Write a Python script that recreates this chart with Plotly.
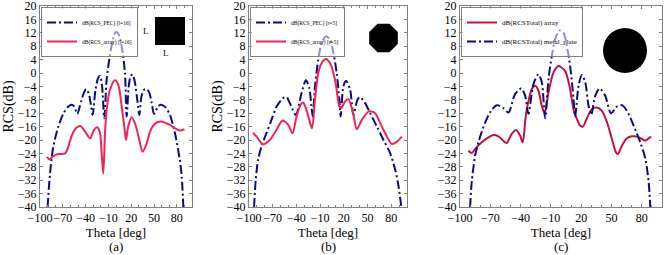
import math
import plotly.graph_objects as go

W, H = 665, 255

# ---------------- data ----------------
# (a) square plate l=16
a_pec_theta = [-90, -86.8, -82.5, -75.9, -69, -62.7, -58.5, -55, -51, -46, -42, -39.5, -36, -33, -30.7, -27, -23.5, -21, -18.5, -15.4,
               -12.3, -7.9, -3.5, 0, 4.4, 8.8, 11.8, 14, 17, 19.5, 22, 25, 28, 30.7, 33.5, 37, 40.4, 44, 47, 50,
               54, 58, 61, 65, 71, 77.6, 84, 86.5, 88.6]
a_pec_val = [-40, -30, -22, -16, -12, -10, -9.5, -10, -12.2, -8.5, -5.8, -4.8, -6, -9.5, -12.5, -5, -1.5, -0.8, -3.5, -13.5,
             -2, 5.5, 10.5, 12.3, 11, 6, 0, -13, -3.5, -0.8, -0.5, -3, -8, -12.5, -7, -5, -4.8, -6, -9, -12.2,
             -10.5, -9.5, -9.6, -10.2, -12.5, -18, -26, -31, -40]
a_arr_theta = [-91, -87.7, -82.5, -75.9, -67, -62.7, -58, -51.8, -47, -40.8, -34, -29, -24.6, -21, -18.9, -16.7,
               -14.5, -12.3, -7.9, -1.3, 3, 7.5, 12, 13.2, 16, 20.6, 25, 30.7, 35, 40.4, 44.7, 51, 58, 64.5, 71, 77.6, 84, 90]
a_arr_val = [-25, -25.8, -24.8, -24.2, -24, -22, -18.5, -16.3, -15.8, -17.5, -19.5, -17, -16.2, -18, -24, -30,
             -18, -11, -5, -2.2, -3.5, -10, -18, -20, -16, -13.2, -15, -20, -23.5, -21, -17.5, -15.2, -14.5, -14.8, -15.5, -16.5, -17.2, -16.8]

# (b) octagonal plate r=5
b_pec_theta = [-93.6, -91.5, -88.6, -84.3, -78, -71.6, -65, -56.8, -52.5, -48.3, -40.7, -33.5, -28, -23.7, -21, -19.3,
               -16.5, -12.3, -8, -2.5, 2.5, 6.8, 11, 14.4, 16, 19.5, 22.9, 28, 32.2, 37.3, 40.7, 47, 53.4, 61.9,
               70.3, 78.8, 85.2, 89.4, 92.8]
b_pec_val = [-40, -32, -26, -22, -18, -14, -10, -7.5, -7.2, -9, -12.5, -6, -2.2, -4.5, -10, -13,
             -4, 4, 9, 11, 10, 6, 0, -8, -13, -4, -2.3, -5, -12.5, -8, -7.2, -9, -12, -16,
             -20, -24, -29, -34, -40]
b_arr_theta = [-94.9, -88.6, -82.5, -73.7, -65.3, -57.5, -50.4, -44.9, -39.8, -33.5, -31.5, -28, -23.7, -20.3, -16.5,
               -12.3, -8, -2.5, 2.5, 8.9, 14.4, 16.5, 21.6, 25.8, 32.2, 36.4, 42.8, 51.3, 55, 59.7, 68.2, 74.6, 80.9, 87.3, 93.6]
b_arr_val = [-17.8, -19.5, -21.3, -20, -17, -14.2, -15.5, -18, -13, -9, -8.8, -10.5, -14, -16.5, -8,
             0, 3, 4.2, 3, -2, -10, -10.5, -8.5, -7.8, -12.5, -16.8, -14, -11.5, -11.5, -12, -16, -19, -21.2, -20.5, -19]

# (c) circular plate
c_pec_theta = [-90, -88.4, -85, -81.8, -76.9, -70.2, -63.6, -57, -52, -45.5, -39.5, -35.5, -32.2, -27.3, -22.3, -19,
               -15.7, -12.4, -9.1, -5.8, -1.5, 2.5, 6.4, 9.8, 12.4, 14, 17.4, 20.7, 24, 27.3, 29.9, 33.9, 38.2,
               43.8, 49.4, 55.4, 60.3, 65.3, 71.9, 78.5, 83.5, 86.8, 88.4]
c_pec_val = [-40, -32.6, -24.6, -20.7, -16.2, -11.7, -9.6, -10.5, -11.8, -6.3, -4.6, -6.8, -12.2, -3.3, -0.4, -2.8,
             -13.5, -1.8, 5.1, 10.1, 12.7, 12, 7.1, 0.2, -7.8, -13, -3.8, -0.6, -2.8, -9.8, -12.5, -6.8, -4.6,
             -6.8, -12, -10, -9.6, -11.3, -15.7, -20.7, -25.6, -32.6, -40]
c_arr_theta = [-91.7, -88.4, -85.1, -78.5, -71.9, -66.9, -62, -55.4, -53.7, -48.8, -44.5, -40.5, -37.9, -35.2, -33.2,
               -28.9, -25.6, -22.3, -19, -16.2, -12.4, -7.4, -2.5, -0.2, 4.1, 8.4, 12.4, 15.7, 19, 21.7, 25.6,
               30.6, 35.5, 40.5, 45.5, 50.4, 54.4, 56.4, 60.3, 65.3, 70.2, 75.2, 80.2, 83.5, 86.8, 89.1]
c_arr_val = [-23.2, -23.9, -22.7, -20.7, -19.2, -18.5, -18.9, -20.7, -20.9, -18.2, -17, -18.7, -20.7, -13.7, -9.8,
             -4.8, -3.8, -5.3, -9.8, -12, -5.8, 0.2, 2.1, 1.8, 0.6, -3.8, -10.8, -13.7, -15.7, -16, -13.5,
             -10.8, -10.3, -11.3, -14.7, -19.7, -23.7, -24.2, -21.7, -19.5, -18.9, -19, -19.7, -20.2, -19.5, -19]

x_ticks = [-100, -70, -40, -10, 20, 50, 80]
y_ticks = list(range(-40, 21, 4))
panel_labels = ["(a)", "(b)", "(c)"]

# ---------------- styling ----------------
NAVY = "#0c0c78"
PINK = "#f0245a"
CRIMSON = "#c4113f"
DASH = "9px,3px,2px,3px"
SERIF = "Liberation Serif"
FRAME = "#808080"
LEG_BG = "rgba(255,255,255,0.55)"

def px(x):
    return x / W

def py(y):
    return 1 - y / H

panels = [
    dict(x0=40, x1=192),
    dict(x0=249, x1=407),
    dict(x0=460, x1=662),
]
ytop, ybot = 6, 207

fig = go.Figure()

series = [
    (1, a_pec_theta, a_pec_val, "dB(RCS_PEC) [l=16]", NAVY, DASH, "legend"),
    (1, a_arr_theta, a_arr_val, "dB(RCS_array) [l=16]", PINK, "solid", "legend"),
    (2, b_pec_theta, b_pec_val, "dB(RCS_PEC) [r=5]", NAVY, DASH, "legend2"),
    (2, b_arr_theta, b_arr_val, "dB(RCS_array) [r=5]", PINK, "solid", "legend2"),
    (3, c_arr_theta, c_arr_val, "dB(RCSTotal) array", CRIMSON, "solid", "legend3"),
    (3, c_pec_theta, c_pec_val, "dB(RCSTotal) metal_plate", NAVY, DASH, "legend3"),
]
for i, th, v, name, col, dash, lg in series:
    fig.add_trace(go.Scatter(
        x=th, y=v, mode="lines", name=name,
        line=dict(color=col, width=2, dash=dash, shape="spline", smoothing=0.8),
        xaxis="x" if i == 1 else f"x{i}", yaxis="y" if i == 1 else f"y{i}",
        legend=lg,
    ))

layout = dict(
    width=W, height=H,
    margin=dict(l=0, r=0, t=0, b=0, autoexpand=False),
    paper_bgcolor="white", plot_bgcolor="white",
    font=dict(family=SERIF, size=12, color="black"),
)
for k, p in enumerate(panels, start=1):
    sx = "" if k == 1 else str(k)
    layout[f"xaxis{sx}"] = dict(
        domain=[px(p["x0"]), px(p["x1"])], anchor=f"y{sx}", range=[-100, 100],
        tickvals=x_ticks, ticks="inside", ticklen=3, mirror="ticks", tickangle=0,
        showline=True, linecolor=FRAME, linewidth=1, showgrid=False, zeroline=False,
        tickfont=dict(family=SERIF, size=12), tickcolor=FRAME, automargin=False,
        ticklabeloverflow="allow",
        minor=dict(dtick=10, tick0=0, ticks="inside", ticklen=2, tickcolor=FRAME),
        title=dict(text="Theta [deg]", font=dict(family=SERIF, size=13), standoff=0),
    )
    layout[f"yaxis{sx}"] = dict(
        domain=[py(ybot), py(ytop)], anchor=f"x{sx}", range=[-40, 20],
        tickvals=y_ticks, ticks="inside", ticklen=3, mirror="ticks",
        showline=True, linecolor=FRAME, linewidth=1, showgrid=False, zeroline=False,
        tickfont=dict(family=SERIF, size=12), tickcolor=FRAME, automargin=False,
        ticklabeloverflow="allow",
        title=dict(text="RCS(dB)" if k < 3 else "", font=dict(family=SERIF, size=14), standoff=0),
    )

legfont = dict(family=SERIF, size=5.5, color="black")
layout["legend"] = dict(x=px(41), y=py(7), xanchor="left", yanchor="top", font=legfont,
                        bordercolor=FRAME, borderwidth=1, bgcolor=LEG_BG,
                        tracegroupgap=0, itemwidth=30)
layout["legend2"] = dict(x=px(250), y=py(7), xanchor="left", yanchor="top", font=legfont,
                         bordercolor=FRAME, borderwidth=1, bgcolor=LEG_BG, itemwidth=30)
layout["legend3"] = dict(x=px(461), y=py(7), xanchor="left", yanchor="top",
                         font=dict(family=SERIF, size=7, color="black"),
                         bordercolor=FRAME, borderwidth=1, bgcolor=LEG_BG, itemwidth=30)

def note(text, x, y, size):
    return dict(text=text, x=px(x), y=py(y), xref="paper", yref="paper", showarrow=False,
                xanchor="center", yanchor="middle", font=dict(family=SERIF, size=size))

annotations = [note(panel_labels[k], (p["x0"] + p["x1"]) / 2, 246, 13) for k, p in enumerate(panels)]
annotations.append(note("L", 146, 31, 9))
annotations.append(note("L", 166, 53, 9))
layout["annotations"] = annotations

cx, cy, rx, ry = 383.5, 38, 15.5, 15.5
pts = []
for j in range(8):
    ang = math.radians(22.5 + 45 * j)
    pts.append((px(cx + rx * math.cos(ang)), py(cy + ry * math.sin(ang))))
path = "M " + " L ".join(f"{a:.5f},{b:.5f}" for a, b in pts) + " Z"

layout["shapes"] = [
    dict(type="rect", xref="paper", yref="paper", x0=px(155), x1=px(185), y0=py(45), y1=py(17),
         fillcolor="black", line=dict(width=0)),
    dict(type="path", xref="paper", yref="paper", path=path, fillcolor="black", line=dict(width=0)),
    dict(type="circle", xref="paper", yref="paper", x0=px(603), x1=px(647), y0=py(73), y1=py(28),
         fillcolor="black", line=dict(width=0)),
]

fig.update_layout(**layout)
fig.write_html(
    "out.html",
    config={"displayModeBar": False},
    post_script="document.body.style.margin='0';document.body.style.overflow='hidden';",
)
